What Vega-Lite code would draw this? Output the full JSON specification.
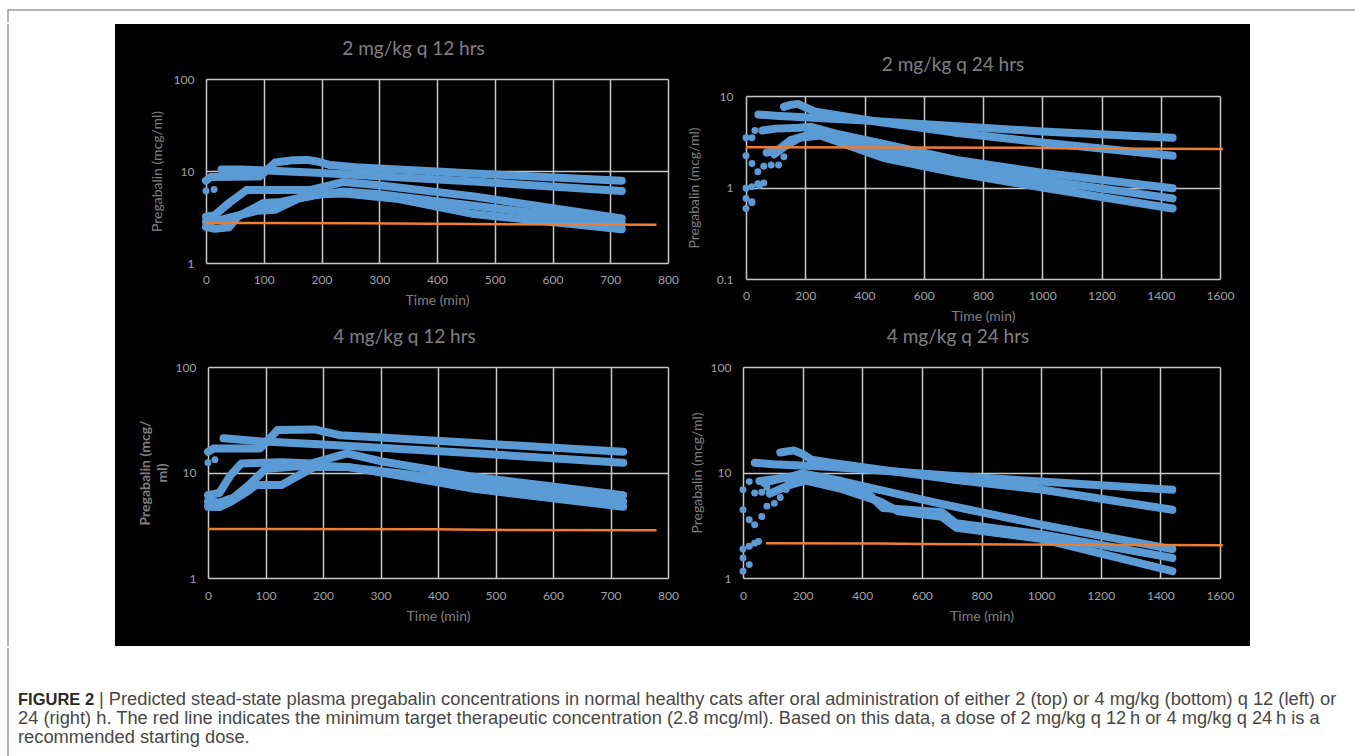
{
  "$schema": "https://vega.github.io/schema/vega-lite/v6.json",
  "background": "white",
  "padding": {"left": 7, "top": 9, "right": 0, "bottom": 0},
  "spacing": 0,
  "datasets": {
    "curves": [
      {"p":1,"s":"a","t":0,"v":7.85},{"p":1,"s":"a","t":8,"v":8.6},{"p":1,"s":"a","t":93,"v":8.7},{"p":1,"s":"a","t":105,"v":10.2},{"p":1,"s":"a","t":120,"v":12.4},{"p":1,"s":"a","t":150,"v":13.1},{"p":1,"s":"a","t":175,"v":13.2},{"p":1,"s":"a","t":195,"v":12.6},{"p":1,"s":"a","t":215,"v":11.6},{"p":1,"s":"a","t":260,"v":11.0},{"p":1,"s":"a","t":464,"v":9.4},{"p":1,"s":"a","t":720,"v":7.85},
      {"p":1,"s":"b","t":27,"v":10.4},{"p":1,"s":"b","t":60,"v":10.4},{"p":1,"s":"b","t":95,"v":10.2},{"p":1,"s":"b","t":200,"v":9.5},{"p":1,"s":"b","t":464,"v":7.7},{"p":1,"s":"b","t":720,"v":6.05},
      {"p":1,"s":"c","t":0,"v":3.18},{"p":1,"s":"c","t":15,"v":3.3},{"p":1,"s":"c","t":40,"v":4.5},{"p":1,"s":"c","t":70,"v":6.2},{"p":1,"s":"c","t":180,"v":6.2},{"p":1,"s":"c","t":238,"v":7.6},{"p":1,"s":"c","t":300,"v":7.0},{"p":1,"s":"c","t":464,"v":5.3},{"p":1,"s":"c","t":720,"v":3.05},
      {"p":1,"s":"d","t":0,"v":2.47},{"p":1,"s":"d","t":15,"v":2.35},{"p":1,"s":"d","t":40,"v":2.45},{"p":1,"s":"d","t":55,"v":3.2},{"p":1,"s":"d","t":100,"v":4.5},{"p":1,"s":"d","t":130,"v":4.6},{"p":1,"s":"d","t":180,"v":5.4},{"p":1,"s":"d","t":238,"v":6.0},{"p":1,"s":"d","t":300,"v":5.6},{"p":1,"s":"d","t":464,"v":4.2},{"p":1,"s":"d","t":720,"v":2.69},
      {"p":1,"s":"e","t":0,"v":2.8},{"p":1,"s":"e","t":30,"v":3.0},{"p":1,"s":"e","t":90,"v":3.7},{"p":1,"s":"e","t":120,"v":3.8},{"p":1,"s":"e","t":160,"v":5.0},{"p":1,"s":"e","t":200,"v":5.6},{"p":1,"s":"e","t":240,"v":5.7},{"p":1,"s":"e","t":330,"v":5.0},{"p":1,"s":"e","t":464,"v":3.4},{"p":1,"s":"e","t":720,"v":2.33},

      {"p":2,"s":"a","t":42,"v":6.26},{"p":2,"s":"a","t":100,"v":6.1},{"p":2,"s":"a","t":400,"v":5.4},{"p":2,"s":"a","t":700,"v":4.7},{"p":2,"s":"a","t":1000,"v":4.1},{"p":2,"s":"a","t":1440,"v":3.49},
      {"p":2,"s":"b","t":128,"v":7.6},{"p":2,"s":"b","t":150,"v":8.0},{"p":2,"s":"b","t":175,"v":8.2},{"p":2,"s":"b","t":205,"v":7.4},{"p":2,"s":"b","t":230,"v":6.8},{"p":2,"s":"b","t":450,"v":5.2},{"p":2,"s":"b","t":700,"v":4.0},{"p":2,"s":"b","t":1000,"v":3.1},{"p":2,"s":"b","t":1440,"v":2.22},
      {"p":2,"s":"c","t":55,"v":4.2},{"p":2,"s":"c","t":100,"v":4.4},{"p":2,"s":"c","t":180,"v":4.5},{"p":2,"s":"c","t":220,"v":4.6},{"p":2,"s":"c","t":300,"v":3.9},{"p":2,"s":"c","t":465,"v":3.0},{"p":2,"s":"c","t":710,"v":2.0},{"p":2,"s":"c","t":1000,"v":1.45},{"p":2,"s":"c","t":1440,"v":0.98},
      {"p":2,"s":"d","t":70,"v":2.4},{"p":2,"s":"d","t":110,"v":2.6},{"p":2,"s":"d","t":150,"v":3.3},{"p":2,"s":"d","t":230,"v":3.9},{"p":2,"s":"d","t":465,"v":2.5},{"p":2,"s":"d","t":710,"v":1.7},{"p":2,"s":"d","t":1000,"v":1.2},{"p":2,"s":"d","t":1440,"v":0.76},
      {"p":2,"s":"e","t":95,"v":2.3},{"p":2,"s":"e","t":130,"v":2.8},{"p":2,"s":"e","t":180,"v":3.5},{"p":2,"s":"e","t":250,"v":3.7},{"p":2,"s":"e","t":465,"v":2.1},{"p":2,"s":"e","t":710,"v":1.45},{"p":2,"s":"e","t":1000,"v":1.0},{"p":2,"s":"e","t":1440,"v":0.59},

      {"p":3,"s":"a","t":27,"v":21.1},{"p":3,"s":"a","t":90,"v":19.8},{"p":3,"s":"a","t":200,"v":18.4},{"p":3,"s":"a","t":464,"v":15.2},{"p":3,"s":"a","t":722,"v":12.4},
      {"p":3,"s":"b","t":0,"v":15.7},{"p":3,"s":"b","t":10,"v":16.9},{"p":3,"s":"b","t":90,"v":16.9},{"p":3,"s":"b","t":100,"v":19.0},{"p":3,"s":"b","t":121,"v":25.3},{"p":3,"s":"b","t":185,"v":25.6},{"p":3,"s":"b","t":229,"v":22.6},{"p":3,"s":"b","t":300,"v":21.5},{"p":3,"s":"b","t":464,"v":19.0},{"p":3,"s":"b","t":722,"v":15.7},
      {"p":3,"s":"c","t":0,"v":6.1},{"p":3,"s":"c","t":20,"v":6.4},{"p":3,"s":"c","t":39,"v":9.4},{"p":3,"s":"c","t":58,"v":12.2},{"p":3,"s":"c","t":130,"v":12.5},{"p":3,"s":"c","t":180,"v":12.2},{"p":3,"s":"c","t":242,"v":15.2},{"p":3,"s":"c","t":300,"v":12.8},{"p":3,"s":"c","t":463,"v":9.1},{"p":3,"s":"c","t":722,"v":6.1},
      {"p":3,"s":"d","t":0,"v":5.3},{"p":3,"s":"d","t":20,"v":5.2},{"p":3,"s":"d","t":45,"v":5.8},{"p":3,"s":"d","t":70,"v":7.5},{"p":3,"s":"d","t":100,"v":10.8},{"p":3,"s":"d","t":150,"v":11.4},{"p":3,"s":"d","t":200,"v":11.5},{"p":3,"s":"d","t":240,"v":11.3},{"p":3,"s":"d","t":350,"v":9.6},{"p":3,"s":"d","t":463,"v":8.0},{"p":3,"s":"d","t":722,"v":5.3},
      {"p":3,"s":"e","t":0,"v":4.74},{"p":3,"s":"e","t":20,"v":4.7},{"p":3,"s":"e","t":40,"v":5.3},{"p":3,"s":"e","t":70,"v":6.7},{"p":3,"s":"e","t":83,"v":7.6},{"p":3,"s":"e","t":128,"v":7.6},{"p":3,"s":"e","t":160,"v":9.5},{"p":3,"s":"e","t":185,"v":11.3},{"p":3,"s":"e","t":242,"v":11.3},{"p":3,"s":"e","t":350,"v":9.0},{"p":3,"s":"e","t":463,"v":7.0},{"p":3,"s":"e","t":722,"v":4.74},

      {"p":4,"s":"a","t":40,"v":12.4},{"p":4,"s":"a","t":100,"v":12.0},{"p":4,"s":"a","t":300,"v":11.3},{"p":4,"s":"a","t":700,"v":9.3},{"p":4,"s":"a","t":1000,"v":8.2},{"p":4,"s":"a","t":1440,"v":6.85},
      {"p":4,"s":"b","t":125,"v":15.5},{"p":4,"s":"b","t":170,"v":16.2},{"p":4,"s":"b","t":200,"v":15.0},{"p":4,"s":"b","t":230,"v":13.2},{"p":4,"s":"b","t":300,"v":12.3},{"p":4,"s":"b","t":700,"v":8.6},{"p":4,"s":"b","t":1000,"v":6.9},{"p":4,"s":"b","t":1440,"v":4.43},
      {"p":4,"s":"c","t":55,"v":8.3},{"p":4,"s":"c","t":150,"v":9.0},{"p":4,"s":"c","t":200,"v":9.8},{"p":4,"s":"c","t":330,"v":8.3},{"p":4,"s":"c","t":642,"v":5.2},{"p":4,"s":"c","t":1000,"v":3.2},{"p":4,"s":"c","t":1440,"v":1.88},
      {"p":4,"s":"d","t":70,"v":8.0},{"p":4,"s":"d","t":130,"v":8.8},{"p":4,"s":"d","t":200,"v":9.0},{"p":4,"s":"d","t":300,"v":7.8},{"p":4,"s":"d","t":420,"v":6.3},{"p":4,"s":"d","t":470,"v":4.6},{"p":4,"s":"d","t":667,"v":4.2},{"p":4,"s":"d","t":715,"v":3.3},{"p":4,"s":"d","t":1000,"v":2.6},{"p":4,"s":"d","t":1440,"v":1.55},
      {"p":4,"s":"e","t":90,"v":6.3},{"p":4,"s":"e","t":150,"v":7.5},{"p":4,"s":"e","t":210,"v":8.4},{"p":4,"s":"e","t":330,"v":7.0},{"p":4,"s":"e","t":460,"v":5.3},{"p":4,"s":"e","t":520,"v":4.3},{"p":4,"s":"e","t":667,"v":3.8},{"p":4,"s":"e","t":715,"v":3.0},{"p":4,"s":"e","t":1000,"v":2.35},{"p":4,"s":"e","t":1440,"v":1.16}
    ],
    "dots": [
      {"p":1,"t":0,"v":6.05},{"p":1,"t":14,"v":6.3},
      {"p":2,"t":0,"v":3.49},{"p":2,"t":20,"v":3.5},{"p":2,"t":30,"v":4.2},{"p":2,"t":0,"v":2.22},{"p":2,"t":20,"v":1.83},{"p":2,"t":40,"v":1.49},{"p":2,"t":60,"v":1.71},{"p":2,"t":85,"v":1.76},{"p":2,"t":110,"v":1.76},{"p":2,"t":128,"v":2.17},{"p":2,"t":0,"v":0.98},{"p":2,"t":20,"v":1.02},{"p":2,"t":40,"v":1.1},{"p":2,"t":0,"v":0.76},{"p":2,"t":20,"v":0.7},{"p":2,"t":45,"v":1.05},{"p":2,"t":0,"v":0.59},{"p":2,"t":20,"v":0.68},{"p":2,"t":60,"v":1.12},
      {"p":3,"t":0,"v":12.4},{"p":3,"t":12,"v":13.2},
      {"p":4,"t":0,"v":6.85},{"p":4,"t":0,"v":4.43},{"p":4,"t":0,"v":1.88},{"p":4,"t":0,"v":1.55},{"p":4,"t":0,"v":1.16},{"p":4,"t":21,"v":8.2},{"p":4,"t":21,"v":3.56},{"p":4,"t":21,"v":2.0},{"p":4,"t":21,"v":1.34},{"p":4,"t":39,"v":6.4},{"p":4,"t":39,"v":3.2},{"p":4,"t":39,"v":2.14},{"p":4,"t":52,"v":2.22},{"p":4,"t":63,"v":3.83},{"p":4,"t":80,"v":4.8},{"p":4,"t":105,"v":5.1},{"p":4,"t":125,"v":5.8},{"p":4,"t":145,"v":6.9},{"p":4,"t":63,"v":6.5},{"p":4,"t":80,"v":7.2}
    ],
    "target": [
      {"p":1,"t":0,"v":2.72},{"p":1,"t":260,"v":2.7},{"p":1,"t":520,"v":2.63},{"p":1,"t":780,"v":2.6},
      {"p":2,"t":0,"v":2.76},{"p":2,"t":950,"v":2.72},{"p":2,"t":1100,"v":2.66},{"p":2,"t":1610,"v":2.64},
      {"p":3,"t":0,"v":2.92},{"p":3,"t":390,"v":2.9},{"p":3,"t":520,"v":2.85},{"p":3,"t":780,"v":2.83},
      {"p":4,"t":77,"v":2.13},{"p":4,"t":460,"v":2.12},{"p":4,"t":600,"v":2.1},{"p":4,"t":1610,"v":2.04}
    ],
    "caption": [
      {"line":1,"lead":"FIGURE 2","text":"| Predicted stead-state plasma pregabalin concentrations in normal healthy cats after oral administration of either 2 (top) or 4 mg/kg (bottom) q 12 (left) or"},
      {"line":2,"lead":"","text":"24 (right) h. The red line indicates the minimum target therapeutic concentration (2.8 mcg/ml). Based on this data, a dose of 2 mg/kg q 12\u2009h or 4 mg/kg q 24\u2009h is a"},
      {"line":3,"lead":"","text":"recommended starting dose."}
    ]
  },
  "vconcat": [
    {
      "width": 1348, "height": 12,
      "view": {"stroke": "#9a9a9a", "strokeWidth": 1.5, "strokeDash": [1348, 1360, 12]},
      "data": {"values": [{}]},
      "mark": {"type": "point", "opacity": 0}
    },
    {
      "spacing": 0,
      "hconcat": [
        {
          "width": 106, "height": 622,
          "view": {"stroke": "#9a9a9a", "strokeWidth": 1.5, "strokeDash": [0, 834, 622]},
          "data": {"values": [{}]},
          "mark": {"type": "point", "opacity": 0}
        },
        {
          "spacing": 0,
          "vconcat": [
            {
              "spacing": 0,
              "bounds": "flush",
              "hconcat": [
                {
                  "width": 565, "height": 302,
                  "view": {"fill": "black", "stroke": null},
                  "title": {"text": "2 mg/kg q 12 hrs", "offset": -35, "dx": 16},
                  "encoding": {
                    "y": {"field": "v", "type": "quantitative",
                      "scale": {"type": "log", "domain": [1, 100], "range": [239, 55], "nice": false},
                      "axis": {"orient": "left", "offset": -91, "values": [1, 10, 100], "format": "~g", "grid": true, "labelPadding": 12, "title": "Pregabalin (mcg/ml)", "titlePadding": 9}}
                  },
                  "layer": [
                    {"data": {"name": "curves"}, "transform": [{"filter": "datum.p == 1"}],
                     "mark": {"type": "line", "color": "#5b9bd5", "strokeWidth": 8, "strokeCap": "round", "strokeJoin": "round"},
                     "encoding": {
                       "x": {"field": "t", "type": "quantitative", "scale": {"domain": [0, 800], "range": [91, 553], "nice": false},
                         "axis": {"orient": "bottom", "offset": -63, "values": [0,100,200,300,400,500,600,700,800], "format": "d", "grid": false, "labelPadding": 11, "title": "Time (min)", "titlePadding": 8}},
                       "detail": {"field": "s"}}},
                    {"data": {"name": "dots"}, "transform": [{"filter": "datum.p == 1"}],
                     "mark": {"type": "circle", "color": "#5b9bd5", "size": 48, "opacity": 1},
                     "encoding": {"x": {"field": "t", "type": "quantitative",
                       "axis": {"orient": "top", "values": [0,100,200,300,400,500,600,700,800], "grid": true, "labels": false, "title": null}}}},
                    {"data": {"name": "target"}, "transform": [{"filter": "datum.p == 1"}],
                     "mark": {"type": "line", "color": "#ed7d31", "strokeWidth": 2.5},
                     "encoding": {"x": {"field": "t", "type": "quantitative", "axis": null}}}
                  ],
                  "resolve": {"axis": {"x": "independent"}}
                },
                {
                  "width": 570, "height": 302,
                  "view": {"fill": "black", "stroke": null},
                  "title": {"text": "2 mg/kg q 24 hrs", "offset": -51, "dx": -12},
                  "encoding": {
                    "y": {"field": "v", "type": "quantitative",
                      "scale": {"type": "log", "domain": [0.1, 10], "range": [255, 72], "nice": false},
                      "axis": {"orient": "left", "offset": -66, "values": [0.1, 1, 10], "format": "~g", "grid": true, "labelPadding": 13, "title": "Pregabalin (mcg/ml)", "titlePadding": 15}}
                  },
                  "layer": [
                    {"data": {"name": "curves"}, "transform": [{"filter": "datum.p == 2"}],
                     "mark": {"type": "line", "color": "#5b9bd5", "strokeWidth": 8, "strokeCap": "round", "strokeJoin": "round"},
                     "encoding": {
                       "x": {"field": "t", "type": "quantitative", "scale": {"domain": [0, 1600], "range": [66, 540], "nice": false},
                         "axis": {"orient": "bottom", "offset": -47, "values": [0,200,400,600,800,1000,1200,1400,1600], "format": "d", "grid": false, "labelPadding": 11, "title": "Time (min)", "titlePadding": 8}},
                       "detail": {"field": "s"}}},
                    {"data": {"name": "dots"}, "transform": [{"filter": "datum.p == 2"}],
                     "mark": {"type": "circle", "color": "#5b9bd5", "size": 48, "opacity": 1},
                     "encoding": {"x": {"field": "t", "type": "quantitative",
                       "axis": {"orient": "top", "values": [0,200,400,600,800,1000,1200,1400,1600], "grid": true, "labels": false, "title": null}}}},
                    {"data": {"name": "target"}, "transform": [{"filter": "datum.p == 2"}],
                     "mark": {"type": "line", "color": "#ed7d31", "strokeWidth": 2.5},
                     "encoding": {"x": {"field": "t", "type": "quantitative", "axis": null}}}
                  ],
                  "resolve": {"axis": {"x": "independent"}}
                }
              ]
            },
            {
              "spacing": 0,
              "bounds": "flush",
              "hconcat": [
                {
                  "width": 565, "height": 320,
                  "view": {"fill": "black", "stroke": null},
                  "title": {"text": "4 mg/kg q 12 hrs", "offset": -21, "dx": 7},
                  "encoding": {
                    "y": {"field": "v", "type": "quantitative",
                      "scale": {"type": "log", "domain": [1, 100], "range": [252, 41], "nice": false},
                      "axis": {"orient": "left", "offset": -93, "values": [1, 10, 100], "format": "~g", "grid": true, "labelPadding": 12, "title": ["Pregabalin (mcg/", "ml)"], "titleFontWeight": "bold", "titleLineHeight": 17, "titlePadding": 6}}
                  },
                  "layer": [
                    {"data": {"name": "curves"}, "transform": [{"filter": "datum.p == 3"}],
                     "mark": {"type": "line", "color": "#5b9bd5", "strokeWidth": 8, "strokeCap": "round", "strokeJoin": "round"},
                     "encoding": {
                       "x": {"field": "t", "type": "quantitative", "scale": {"domain": [0, 800], "range": [93, 553], "nice": false},
                         "axis": {"orient": "bottom", "offset": -68, "values": [0,100,200,300,400,500,600,700,800], "format": "d", "grid": false, "labelPadding": 12, "title": "Time (min)", "titlePadding": 8}},
                       "detail": {"field": "s"}}},
                    {"data": {"name": "dots"}, "transform": [{"filter": "datum.p == 3"}],
                     "mark": {"type": "circle", "color": "#5b9bd5", "size": 48, "opacity": 1},
                     "encoding": {"x": {"field": "t", "type": "quantitative",
                       "axis": {"orient": "top", "values": [0,100,200,300,400,500,600,700,800], "grid": true, "labels": false, "title": null}}}},
                    {"data": {"name": "target"}, "transform": [{"filter": "datum.p == 3"}],
                     "mark": {"type": "line", "color": "#ed7d31", "strokeWidth": 2.5},
                     "encoding": {"x": {"field": "t", "type": "quantitative", "axis": null}}}
                  ],
                  "resolve": {"axis": {"x": "independent"}}
                },
                {
                  "width": 570, "height": 320,
                  "view": {"fill": "black", "stroke": null},
                  "title": {"text": "4 mg/kg q 24 hrs", "offset": -21, "dx": -7},
                  "encoding": {
                    "y": {"field": "v", "type": "quantitative",
                      "scale": {"type": "log", "domain": [1, 100], "range": [252, 41], "nice": false},
                      "axis": {"orient": "left", "offset": -63, "values": [1, 10, 100], "format": "~g", "grid": true, "labelPadding": 12, "title": "Pregabalin (mcg/ml)", "titlePadding": 6}}
                  },
                  "layer": [
                    {"data": {"name": "curves"}, "transform": [{"filter": "datum.p == 4"}],
                     "mark": {"type": "line", "color": "#5b9bd5", "strokeWidth": 8, "strokeCap": "round", "strokeJoin": "round"},
                     "encoding": {
                       "x": {"field": "t", "type": "quantitative", "scale": {"domain": [0, 1600], "range": [63, 540], "nice": false},
                         "axis": {"orient": "bottom", "offset": -68, "values": [0,200,400,600,800,1000,1200,1400,1600], "format": "d", "grid": false, "labelPadding": 12, "title": "Time (min)", "titlePadding": 8}},
                       "detail": {"field": "s"}}},
                    {"data": {"name": "dots"}, "transform": [{"filter": "datum.p == 4"}],
                     "mark": {"type": "circle", "color": "#5b9bd5", "size": 48, "opacity": 1},
                     "encoding": {"x": {"field": "t", "type": "quantitative",
                       "axis": {"orient": "top", "values": [0,200,400,600,800,1000,1200,1400,1600], "grid": true, "labels": false, "title": null}}}},
                    {"data": {"name": "target"}, "transform": [{"filter": "datum.p == 4"}],
                     "mark": {"type": "line", "color": "#ed7d31", "strokeWidth": 2.5},
                     "encoding": {"x": {"field": "t", "type": "quantitative", "axis": null}}}
                  ],
                  "resolve": {"axis": {"x": "independent"}}
                }
              ]
            }
          ]
        },
        {
          "width": 107, "height": 622,
          "view": {"stroke": null},
          "data": {"values": [{}]},
          "mark": {"type": "point", "opacity": 0}
        }
      ]
    },
    {
      "width": 1348, "height": 110,
      "view": {"stroke": "#9a9a9a", "strokeWidth": 1.5, "strokeDash": [0, 2806, 110]},
      "data": {"name": "caption"},
      "encoding": {
        "x": {"datum": 0, "type": "quantitative", "scale": {"domain": [0, 1], "range": [10, 1348]}, "axis": null},
        "y": {"field": "line", "type": "ordinal", "scale": {"type": "point", "range": [52, 90], "padding": 0}, "axis": null}
      },
      "layer": [
        {"transform": [{"filter": "datum.line != 1"}],
         "mark": {"type": "text", "align": "left", "baseline": "middle", "font": "Liberation Sans", "fontSize": 18.3, "color": "#474747"},
         "encoding": {"text": {"field": "text"}}},
        {"transform": [{"filter": "datum.line == 1"}],
         "mark": {"type": "text", "align": "left", "baseline": "middle", "font": "Liberation Sans", "fontSize": 16.5, "fontWeight": "bold", "color": "#2a2a2a"},
         "encoding": {"text": {"field": "lead"}}},
        {"transform": [{"filter": "datum.line == 1"}],
         "mark": {"type": "text", "align": "left", "baseline": "middle", "font": "Liberation Sans", "fontSize": 18.3, "color": "#474747"},
         "encoding": {"x": {"datum": 0.0605, "type": "quantitative"}, "text": {"field": "text"}}}
      ]
    }
  ],
  "config": {
    "view": {"stroke": null},
    "axis": {"labelFont": "Lato", "labelFontSize": 12, "labelColor": "#a0a0a0", "titleFont": "Lato", "titleFontSize": 14, "titleColor": "#808080", "titleFontWeight": "normal", "gridColor": "#c8c8c8", "gridWidth": 1.5, "gridOpacity": 1, "domain": false, "ticks": false, "labelFlush": false, "labelOverlap": false, "minExtent": 0},
    "title": {"font": "Lato", "fontSize": 19, "fontWeight": "normal", "color": "#808080", "anchor": "middle", "baseline": "middle"}
  }
}
